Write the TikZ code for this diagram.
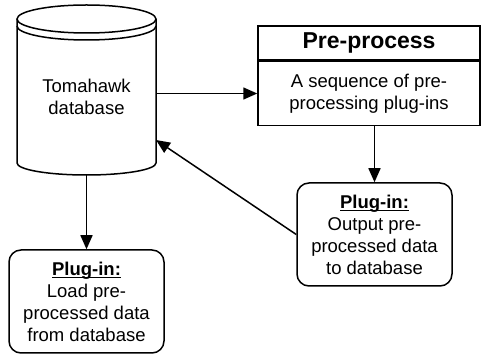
\documentclass[tikz,border=0pt]{standalone}
\usepackage{fontspec}
\setmainfont{Liberation Sans}
\usetikzlibrary{positioning}
\usetikzlibrary{arrows.meta}
\usetikzlibrary{calc}

\newcommand{\plugul}[1]{\setbox0\hbox{#1}\rlap{\rule[-2.5pt]{\wd0}{1.1pt}}\box0}

\tikzset{
  line/.style={line width=1.5pt},
  flow/.style={line, -{Triangle[length=14pt,width=12pt]}},
  plugbox/.style={draw, line, rounded corners=12pt, minimum width=155pt,
    minimum height=103pt, align=center, inner sep=0pt,
    font=\fontsize{18.5}{22}\selectfont},
  prebox/.style={draw, line, minimum width=222pt, inner sep=0pt, align=center}
}

\begin{document}
\begin{tikzpicture}[x=1pt,y=-1pt]
\useasboundingbox (0,0) rectangle (482,355);

% database cylinder
\node[minimum width=139pt, minimum height=156pt, inner sep=0pt, align=center,
  font=\fontsize{18.5}{22}\selectfont] (db) at (86.5,97) {Tomahawk\\database};
\draw[line] (86.5,19) ellipse [x radius=69.5, y radius=14];
\draw[line] (17,26) arc [start angle=180, end angle=0, x radius=69.5, y radius=14];
\draw[line] (17,19) -- (17,163) arc [start angle=180, end angle=0, x radius=69.5, y radius=12] -- (156,19);

% pre-process box
\node[prebox, minimum height=34pt, font=\fontsize{23}{26}\selectfont\bfseries] (head) at (369,43) {Pre-process};
\node[prebox, minimum height=64pt, font=\fontsize{18.5}{22}\selectfont, below=0pt of head] (body) {A sequence of pre-\\processing plug-ins};

% plug-ins
\node[plugbox] (outplug) at (374.5,234.5) {\plugul{\textbf{Plug-in:}}\\Output pre-\\processed data\\to database};
\node[plugbox] (loadplug) at (86.5,301.5) {\plugul{\textbf{Plug-in:}}\\Load pre-\\processed data\\from database};

% connectors
\coordinate (dbin) at (156,140);
\coordinate (dbout) at (86.5,175);
\draw[flow] (db.east |- body.west) -- (body.west);
\draw[flow] (outplug.north |- body.south) -- (outplug.north);
\draw[flow] (outplug.west) -- (dbin);
\draw[flow] (dbout) -- (loadplug.north);
\end{tikzpicture}
\end{document}
